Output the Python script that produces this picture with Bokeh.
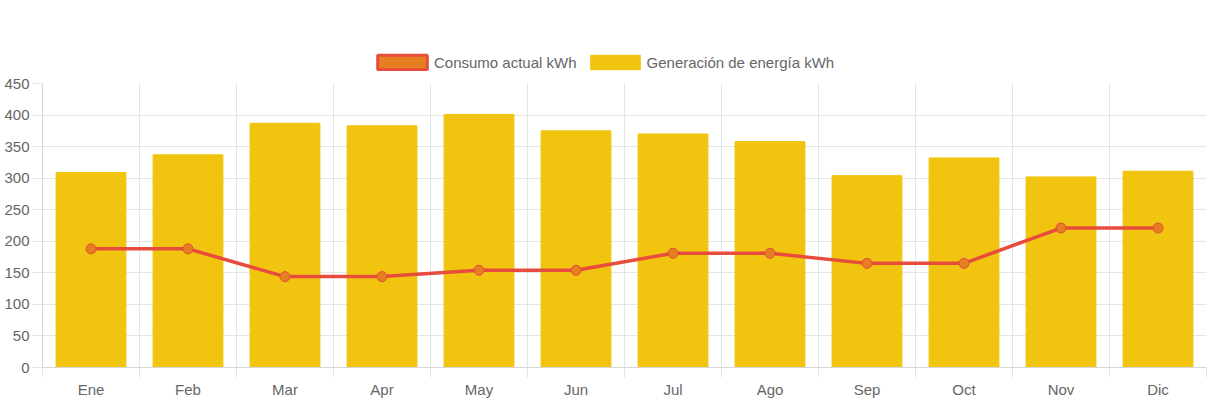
from bokeh.plotting import figure
from bokeh.models import Range1d, FixedTicker, Legend, LegendItem, ColumnDataSource
from bokeh.layouts import column
from bokeh.embed import file_html
from bokeh.resources import INLINE

months = ["Ene", "Feb", "Mar", "Apr", "May", "Jun", "Jul", "Ago", "Sep", "Oct", "Nov", "Dic"]
generacion = [309, 337, 387, 383, 401, 375, 370, 358, 304, 332, 302, 311]
consumo = [188, 188, 144, 144, 154, 154, 181, 181, 165, 165, 221, 221]
y_ticks = [0, 50, 100, 150, 200, 250, 300, 350, 400, 450]

xpos = [i + 0.5 for i in range(len(months))]
src = ColumnDataSource(dict(x=xpos, gen=generacion, con=consumo, m=months))

FONT = "Liberation Sans"
GRID = "#e5e5e5"
AXIS = "#d6d6d6"
TXT = "#666666"
BAR = "#f1c40f"
LINE = "#e74c3c"
PT = "#e67e22"

# ---------- main chart ----------
p = figure(width=1208, height=325, output_backend="svg", toolbar_location=None,
           x_range=Range1d(0, len(months)), y_range=Range1d(0, 450),
           min_border_left=42, min_border_right=2, min_border_top=8, min_border_bottom=33)
p.outline_line_color = None
p.background_fill_color = "white"
p.border_fill_color = "white"

bars = p.vbar(x="x", top="gen", width=0.72, source=src, fill_color=BAR, line_color=BAR, line_width=1)
p.line(x="x", y="con", source=src, line_color=LINE, line_width=3.5)
p.scatter(x="x", y="con", source=src, size=10, fill_color=PT, line_color=LINE, line_width=1)

p.xaxis.ticker = FixedTicker(ticks=xpos, minor_ticks=list(range(len(months) + 1)))
p.xaxis.major_label_overrides = {x: m for x, m in zip(xpos, months)}
p.xaxis.major_tick_line_color = None
p.xaxis.major_tick_out = 10
p.xaxis.major_tick_in = 0
p.xaxis.minor_tick_out = 10
p.xaxis.minor_tick_in = 0
p.xaxis.minor_tick_line_color = GRID
p.xaxis.major_label_standoff = 3
p.xgrid.ticker = FixedTicker(ticks=list(range(len(months) + 1)))

p.yaxis.ticker = FixedTicker(ticks=y_ticks)
p.yaxis.major_tick_out = 10
p.yaxis.major_tick_in = 0
p.yaxis.major_tick_line_color = GRID
p.yaxis.minor_tick_line_color = None
p.yaxis.major_label_standoff = 3

for ax in (p.xaxis, p.yaxis):
    ax.axis_line_color = AXIS
    ax.major_label_text_font = FONT
    ax.major_label_text_font_size = "15px"
    ax.major_label_text_color = TXT

p.xgrid.grid_line_color = GRID
p.ygrid.grid_line_color = GRID

# ---------- legend strip ----------
lg = figure(width=1208, height=75, output_backend="svg", toolbar_location=None,
            x_range=Range1d(0, len(months)), y_range=Range1d(0, 450),
            x_axis_type=None, y_axis_type=None,
            min_border_left=0, min_border_right=0, min_border_top=0, min_border_bottom=0)
lg.outline_line_color = None
lg.xgrid.visible = False
lg.ygrid.visible = False
# hidden renderers: only their legend swatches are shown
sw_con = lg.vbar(x="x", top="con", width=0.5, source=src, fill_color=PT, line_color=LINE, line_width=3, visible=False)
sw_gen = lg.vbar(x="x", top="gen", width=0.5, source=src, fill_color=BAR, line_color=BAR, line_width=1, visible=False)

legend = Legend(items=[LegendItem(label="Consumo actual kWh", renderers=[sw_con]),
                       LegendItem(label="Generación de energía kWh", renderers=[sw_gen])],
                orientation="horizontal", location=(329, 4),
                padding=0, margin=0, spacing=7, label_standoff=1,
                glyph_width=62, glyph_height=18,
                inactive_fill_alpha=0,
                label_text_font=FONT, label_text_font_size="15px", label_text_color=TXT,
                border_line_color=None, background_fill_alpha=0)
lg.add_layout(legend, "center")

layout = column(lg, p, spacing=0)
open("out.html", "w").write(file_html(layout, INLINE))
